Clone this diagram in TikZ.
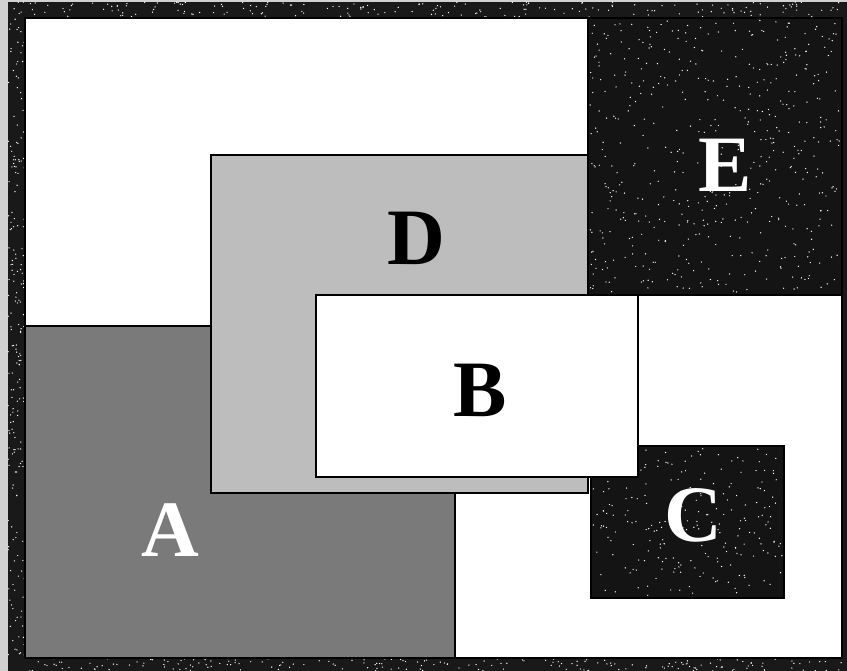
\documentclass[tikz,border=0pt]{standalone}
\usepackage{fontspec}
\setmainfont{Liberation Serif}
\usetikzlibrary{calc}
\pgfdeclarelayer{background}
\pgfdeclarelayer{foreground}
\pgfsetlayers{background,main,foreground}

\tikzset{
  region/.style={draw=black, line width=2.8pt},
  letter/.style={inner sep=0pt, font=\fontsize{80}{80}\selectfont\bfseries},
}

\begin{document}
\begin{tikzpicture}[x=1pt,y=-1pt]
\useasboundingbox (0,0) rectangle (847,671);

\coordinate (FrameMin) at (8,2);
\coordinate (FrameMax) at (847,671);
\coordinate (InnerMin) at (25,18);
\coordinate (InnerMax) at (842,658);

\coordinate (AMin) at (25,326);
\coordinate (AMax) at (455,658);
\coordinate (BMin) at (316,295);
\coordinate (BMax) at (638,477);
\coordinate (CMin) at (591,446);
\coordinate (CMax) at (784,598);
\coordinate (DMin) at (211,155);
\coordinate (DMax) at (588,493);
\coordinate (EMin) at (588,18);
\coordinate (EMax) at (842,295);

\begin{pgfonlayer}{background}
  \fill[black!18] (0,0) rectangle (847,671);% paper edge
  \fill[black!90] (FrameMin) rectangle (FrameMax);% dark frame
  \pgfmathsetseed{11}
  \foreach \i in {1,...,200}{
    \fill[white] ({8+839*rnd},{2+16*rnd}) circle (0.7);
    \fill[white] ({8+17*rnd},{18+640*rnd}) circle (0.7);
    \fill[white] ({25+822*rnd},{658+13*rnd}) circle (0.7);
  }
  \fill[white] (InnerMin) rectangle (InnerMax);
\end{pgfonlayer}

% E and A
\filldraw[region, fill=black!92] (EMin) rectangle (EMax);
\pgfmathsetseed{5}
\foreach \i in {1,...,500}{
  \fill[white] ({590+250*rnd},{20+272*rnd}) circle (0.7);
}
\filldraw[region, fill=black!52] (AMin) rectangle (AMax);

% D, C then B on top
\filldraw[region, fill=black!26] (DMin) rectangle (DMax);
\filldraw[region, fill=black!92] (CMin) rectangle (CMax);
\pgfmathsetseed{3}
\foreach \i in {1,...,220}{
  \fill[white] ({593+189*rnd},{448+148*rnd}) circle (0.7);
}
\filldraw[region, fill=white] (BMin) rectangle (BMax);

\begin{pgfonlayer}{foreground}
  \draw[line width=2.8pt] (InnerMin) rectangle (InnerMax);
  \node[letter, text=white] (LabelA) at (170,530) {A};
  \node[letter, text=black] (LabelB) at (480,390) {B};
  \node[letter, text=white] (LabelC) at (693,515) {C};
  \node[letter, text=black] (LabelD) at (416,238) {D};
  \node[letter, text=white] (LabelE) at (725,165) {E};
\end{pgfonlayer}
\end{tikzpicture}
\end{document}
